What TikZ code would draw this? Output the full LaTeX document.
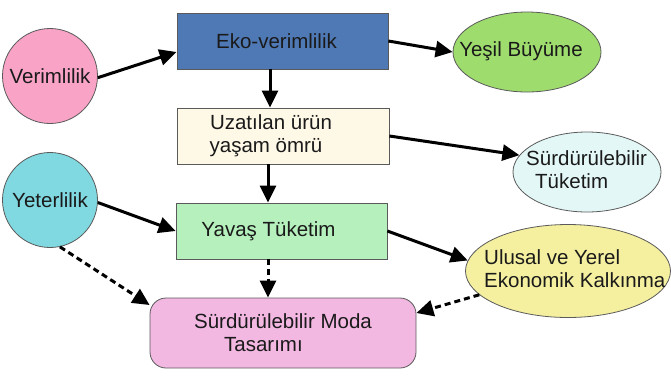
\documentclass[tikz,border=0pt]{standalone}
\usepackage{fontspec}
\setmainfont{Liberation Sans}
\usetikzlibrary{arrows.meta,shapes.geometric}
\definecolor{cPink}{HTML}{F9A3C7}
\definecolor{cCyan}{HTML}{80D8E0}
\definecolor{cBlue}{HTML}{4F79B5}
\definecolor{cGreen}{HTML}{9EDC6E}
\definecolor{cIce}{HTML}{E3F7F7}
\definecolor{cYellow}{HTML}{F5F0A0}
\definecolor{cCream}{HTML}{FEF8E7}
\definecolor{cMint}{HTML}{B5F0BD}
\definecolor{cMagenta}{HTML}{F2B8E2}
\definecolor{cEdge}{HTML}{5A5A5A}
\definecolor{cText}{HTML}{1A1A1A}
\tikzset{
  txt/.style={text=cText, inner sep=0pt, font=\fontsize{20.5}{23}\selectfont},
  base/.style={draw=cEdge, line width=0.8pt, txt},
  boxnode/.style={base, rectangle, minimum width=211pt, minimum height=56pt},
  circnode/.style={base, circle, minimum size=95pt},
  ellnode/.style={base, ellipse, minimum width=148pt, minimum height=80pt},
  conn/.style={line width=3pt, draw=black, -{Triangle[length=17pt,width=16pt]}},
  dconn/.style={conn, dash pattern=on 6pt off 4pt},
}
\begin{document}
\begin{tikzpicture}[x=1pt,y=-1pt]
\useasboundingbox (0,0) rectangle (671,376);

\node[boxnode, fill=cBlue] (eko) at (282.5,41) {Eko-verimlilik\hspace*{12pt}};
\node[boxnode, fill=cCream, minimum width=212pt, align=center] (uz) at (283,136)
  {Uzatılan ürün\hspace*{24pt}\\yaşam ömrü\hspace*{34pt}};
\node[boxnode, fill=cMint] (yav) at (281.5,231) {Yavaş Tüketim\hspace*{26pt}};
\node[boxnode, fill=cMagenta, minimum width=266pt, minimum height=70pt,
  rounded corners=16pt, align=left] (moda) at (283,333)
  {Sürdürülebilir Moda\\\hspace*{30pt}Tasarımı};

\node[circnode, fill=cPink] (ver) at (50,76) {Verimlilik};
\node[circnode, fill=cCyan] (yet) at (50,200) {Yeterlilik};

\node[ellnode, fill=cGreen] (yesil) at (527,52) {};
\node[txt] (yesilT) at (521,51) {Yeşil Büyüme};
\node[ellnode, fill=cIce] (surd) at (587,172) {};
\node[txt, anchor=west, align=left] (surdT) at (526,170)
  {Sürdürülebilir\\\hspace*{9pt}Tüketim};
\node[ellnode, fill=cYellow, minimum width=205pt, minimum height=93pt] (ulu) at (568,271) {};
\node[txt, anchor=west, align=left] (uluT) at (484,268.5)
  {Ulusal ve Yerel\\Ekonomik Kalkınma};

\draw[conn] (ver.-2) -- ([yshift=-11pt]eko.west);
\draw[conn] (eko.east) -- (yesil.west);
\draw[conn] ([xshift=-12.5pt]eko.south) -- ([xshift=-13pt]uz.north);
\draw[conn] (uz.east) -- (surd.166);
\draw[conn] ([xshift=-15pt]uz.south) -- ([xshift=-13.5pt]yav.north);
\draw[conn] (yet.-3) -- (yav.west);
\draw[conn] (yav.east) -- (ulu.174);
\draw[dconn] ([xshift=-13.5pt]yav.south) -- ([xshift=-15pt]moda.north);
\draw[dconn] (yet.-78) -- ([yshift=28pt]moda.west);
\draw[dconn] (ulu.195) -- ([yshift=20pt]moda.east);
\end{tikzpicture}
\end{document}
